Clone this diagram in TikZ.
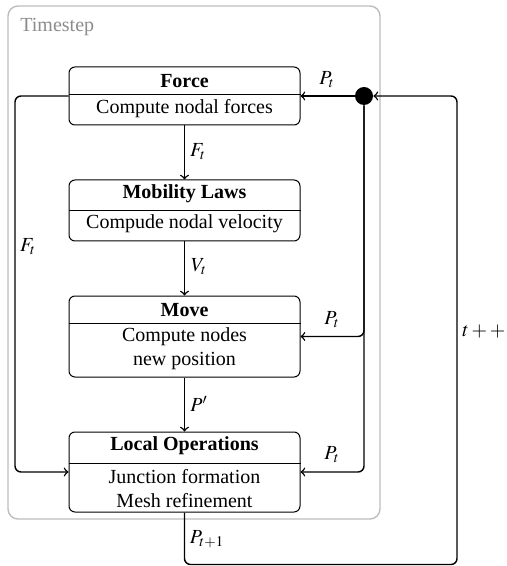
\documentclass[tikz,border=0pt]{standalone}
\usepackage{mathptmx}
\usepackage{fontspec}
\setmainfont{Liberation Serif}
\definecolor{tsframe}{HTML}{BDBDBD}
\definecolor{tstext}{HTML}{8C8C8C}
\begin{document}
\begin{tikzpicture}[x=0.5pt,y=-0.5pt,
  box/.style={draw, line width=0.5pt, rounded corners=3pt, minimum width=115.5pt, inner sep=0pt},
  conn/.style={draw, line width=0.7pt, ->, rounded corners=3pt},
  lbl/.style={inner sep=0pt},
  ttl/.style={inner sep=0pt, font=\bfseries},
  body/.style={inner sep=0pt, align=center}]
\useasboundingbox (0,0) rectangle (507,566);
% outer frame
\node[draw=tsframe, line width=0.7pt, rounded corners=5pt, minimum width=186pt, minimum height=256.5pt, inner sep=0pt] (ts) at (194,262.5) {};
\node[anchor=west, text=tstext, inner sep=0pt] (tsl) at (20,27) {Timestep};
% boxes
\node[box, minimum height=29pt] (force) at (184.5,96) {};
\node[box, minimum height=30.5pt] (mob) at (184.5,210.5) {};
\node[box, minimum height=40.5pt] (move) at (184.5,336.5) {};
\node[box, minimum height=40pt] (local) at (184.5,472) {};
\draw[line width=0.5pt] (force.west |- 0,95) -- (force.east |- 0,95);
\draw[line width=0.5pt] (mob.west |- 0,211) -- (mob.east |- 0,211);
\draw[line width=0.5pt] (move.west |- 0,323) -- (move.east |- 0,323);
\draw[line width=0.5pt] (local.west |- 0,463) -- (local.east |- 0,463);
% texts
\node[ttl] (forceT) at (184.5,81) {Force};
\node[body] (forceB) at (184.5,109) {Compute nodal forces};
\node[ttl] (mobT) at (184.5,194) {Mobility Laws};
\node[body] (mobB) at (184.5,224) {Compude nodal velocity};
\node[ttl] (moveT) at (184.5,310) {Move};
\node[body] (moveB) at (184.5,348.5) {Compute nodes\\new position};
\node[ttl] (localT) at (184.5,446) {Local Operations};
\node[body] (localB) at (184.5,488.5) {Junction formation\\Mesh refinement};
% junction dot
\node[circle, fill, inner sep=0pt, minimum size=9pt] (dot) at (364,96) {};
\coordinate (lc) at (15,96);
\coordinate (br) at (457,564.5);
% connectors
\draw[conn] (dot) -- (force.east);
\draw[conn] (force.south) -- (mob.north);
\draw[conn] (mob.south) -- (move.north);
\draw[conn] (move.south) -- (local.north);
\draw[conn] (dot.south) |- (move.east);
\draw[conn] (dot.south) |- (local.east);
\draw[conn] (force.west) -- (lc) |- (local.west);
\draw[conn] (local.south) |- (br) |- (dot.east);
% labels
\node[lbl] (l1) at (327,80) {$P_t$};
\node[lbl] (l2) at (198,152) {$F_t$};
\node[lbl] (l3) at (28,247) {$F_t$};
\node[lbl] (l4) at (199,267) {$V_t$};
\node[lbl] (l5) at (332,320) {$P_t$};
\node[lbl] (l6) at (199,404) {$P'$};
\node[lbl] (l7) at (332,455) {$P_t$};
\node[lbl] (l8) at (207,539) {$P_{t+1}$};
\node[lbl] (l9) at (484,332) {$t++$};
\end{tikzpicture}
\end{document}
